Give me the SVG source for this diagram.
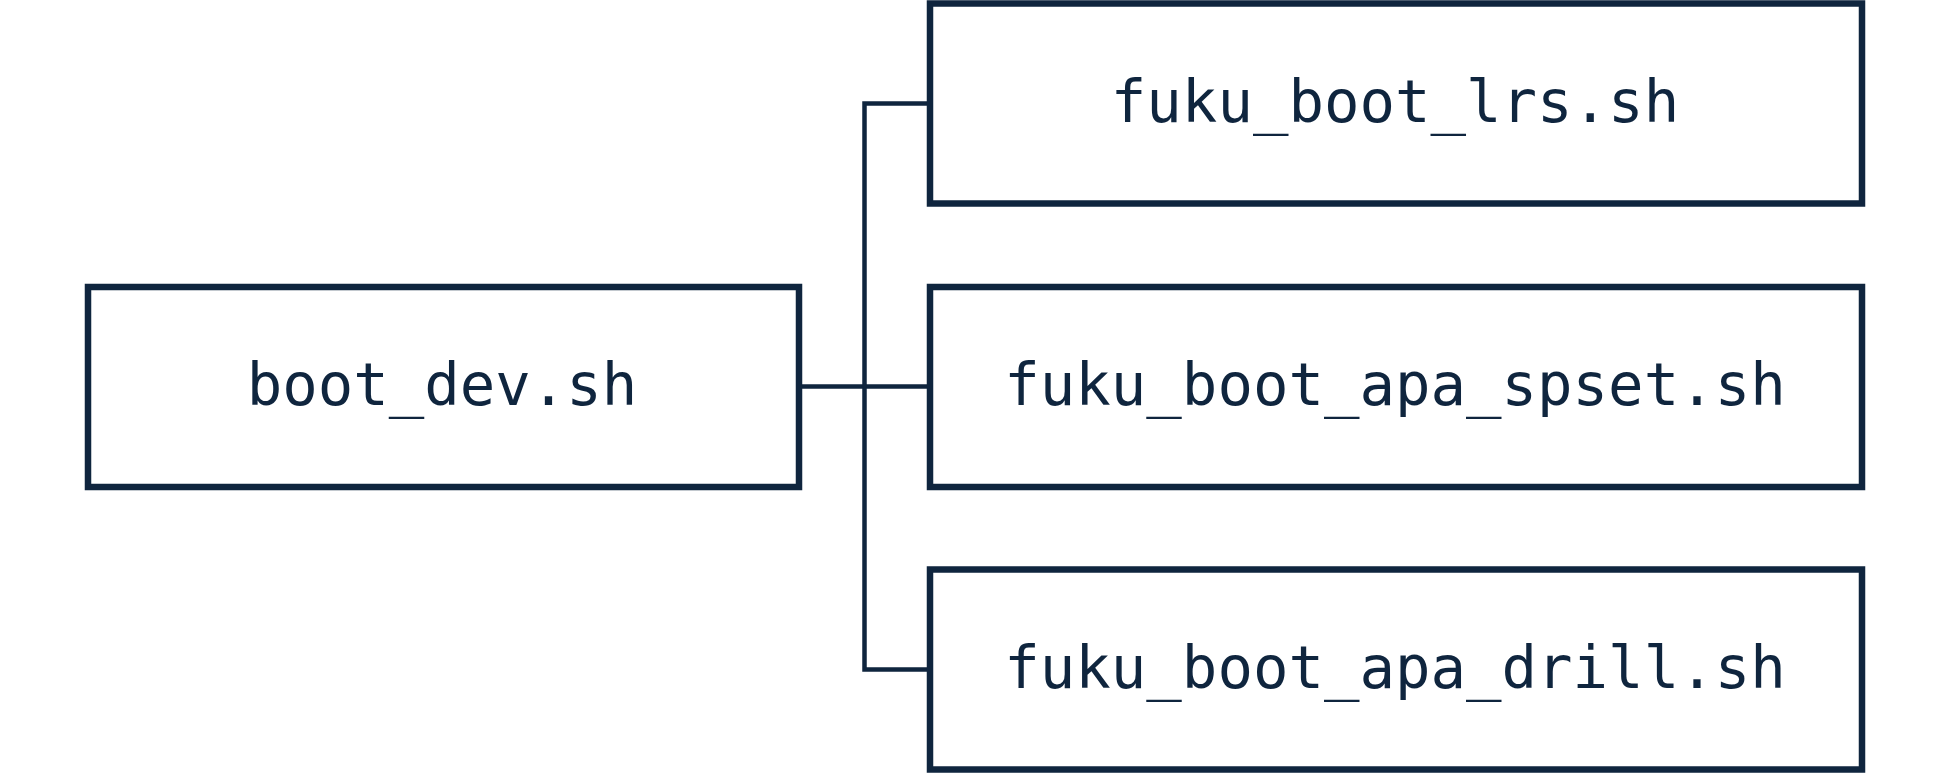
<svg xmlns="http://www.w3.org/2000/svg" width="1949" height="773" viewBox="0 0 1949 773">
<style>
.box{fill:#ffffff;stroke:#0f253e;stroke-width:6.5}
.lbl{font-family:"DejaVu Sans Mono","Liberation Mono",monospace;font-size:59px;fill:#0f253e;text-anchor:middle}
.conn{fill:none;stroke:#0f253e;stroke-width:4.5}
</style>
<rect width="1949" height="773" fill="#ffffff"/>
<g id="connectors">
<path class="conn" d="M799 386.5 H930"/>
<path class="conn" d="M930 103.5 H864.5 V669.5 H930"/>
</g>
<g id="boot_dev">
<rect class="box" x="88" y="287" width="711" height="200"/>
<text class="lbl" x="442" y="405">boot_dev.sh</text>
</g>
<g id="fuku_boot_lrs">
<rect class="box" x="930" y="3.5" width="932" height="200"/>
<text class="lbl" x="1395" y="122">fuku_boot_lrs.sh</text>
</g>
<g id="fuku_boot_apa_spset">
<rect class="box" x="930" y="287" width="932" height="200"/>
<text class="lbl" x="1395" y="405">fuku_boot_apa_spset.sh</text>
</g>
<g id="fuku_boot_apa_drill">
<rect class="box" x="930" y="569.5" width="932" height="200"/>
<text class="lbl" x="1395" y="688">fuku_boot_apa_drill.sh</text>
</g>
</svg>
